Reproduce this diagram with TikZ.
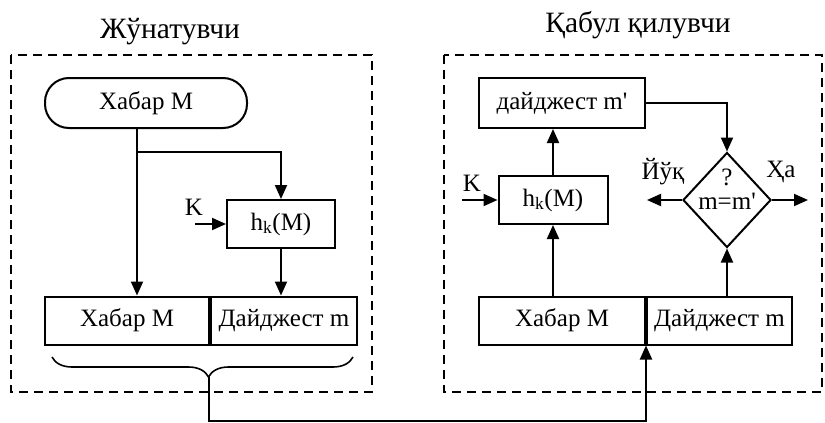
\documentclass[tikz,border=0pt]{standalone}
\usepackage{fontspec}
\setmainfont{Liberation Serif}
\usepackage{tikz}
\usetikzlibrary{arrows.meta, positioning, shapes.geometric, decorations.pathreplacing}
\tikzset{
	>={Triangle[length=14pt, width=12pt]},
	font = \fontsize{25}{30}\selectfont,
	block/.style={
		draw,
		rectangle,
		inner sep=0pt,
		minimum height=48pt
	},
	start/.style={
		draw,
		rounded corners=24pt,
		minimum width=202pt,
		minimum height=50pt,
		inner sep=0pt
	},
	decision/.style={
		draw,
		diamond,
		minimum width=88pt,
		minimum height=95pt,
		inner sep=0pt
	},
	frame/.style={
		dash pattern=on 9pt off 6pt,
		line width=1.9pt
	},
	title/.style={
		font=\fontsize{29.5}{34}\selectfont
	},
	flow/.style={
		->
	}
}

\begin{document}
\begin{tikzpicture}[x=1pt, y=-1pt, line width=2pt]
	\useasboundingbox (0,0) rectangle (825,423);

	% sender
	\node[title] (sendt) at (170,32) {Жўнатувчи};
	\draw[frame] (11,55) rectangle (372,392);
	\node[start] (start) at (146,103) {Хабар М};
	\node[block, minimum width=108pt] (hash) at (281,224) {h\textsubscript{k}(M)};
	\node[block, minimum width=164pt] (msg) at (127,320.5) {Хабар М};
	\node[block, minimum width=146pt, anchor=west] (dig) at (msg.east) {Дайджест m};
	\node (kl) at (194,207) {K};
	\coordinate (kin) at (195,224);
	\coordinate (split) at (137,152);

	\draw (start.south -| split) -- (split);
	\draw[flow] (split) -- (split |- msg.north);
	\draw[flow] (split) -| (hash.north);
	\draw[flow] (kin) -- (hash.west);
	\draw[flow] (hash.south) -- (hash.south |- dig.north);

	% brace and link
	\coordinate (bl) at (52,357);
	\coordinate (br) at (353,357);
	\coordinate (tip) at (209,377);
	\coordinate (low) at (209,421);
	\draw[line width=1.6pt, decorate, decoration={brace, mirror, amplitude=20pt, aspect=0.52}] (bl) -- (br);

	% receiver
	\node[title] (recvt) at (638,25) {Қабул қилувчи};
	\draw[frame] (444,55) rectangle (822,392);
	\node[block, minimum width=166pt, minimum height=50pt] (dgst) at (562,103) {дайджест m\textquotesingle};
	\node[block, minimum width=109pt] (rhash) at (553,200) {h\textsubscript{k}(M)};
	\node[decision] (cmp) at (727,200) {};
	\node (q) at (727,177) {?};
	\node (eq) at (727,201) {m=m\textquotesingle};
	\node[block, minimum width=166pt] (rmsg) at (562,320.5) {Хабар М};
	\node[block, minimum width=145pt, anchor=west] (rdig) at (rmsg.east) {Дайджест m};
	\node (rkl) at (472,183) {K};
	\coordinate (rkin) at (462,200);
	\coordinate (no) at (647,200);
	\coordinate (yes) at (808,200);
	\node (nol) at (663,172) {Йўқ};
	\node (yesl) at (781,172) {Ҳа};

	\draw[flow] (rkin) -- (rhash.west);
	\draw[flow] (rhash.north) -- (rhash.north |- dgst.south);
	\draw[flow] (rmsg.north -| rhash) -- (rhash.south);
	\draw[flow] (rdig.north -| cmp) -- (cmp.south);
	\draw[flow] (dgst.east) -| (cmp.north);
	\draw[flow] (cmp.west) -- (no);
	\draw[flow] (cmp.east) -- (yes);

	\draw[flow] (tip) -- (low) -| (rmsg.south east);
\end{tikzpicture}
\end{document}
